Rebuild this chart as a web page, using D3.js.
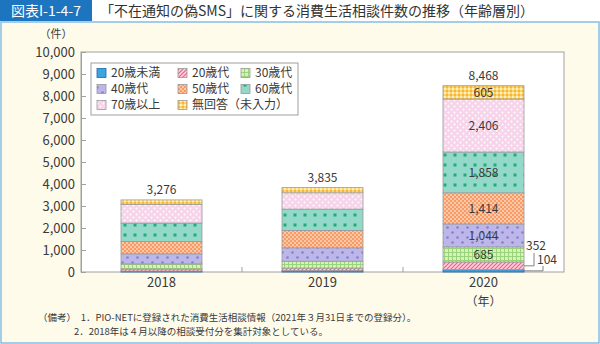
<!DOCTYPE html>
<html><head><meta charset="utf-8">
<script src="https://cdn.jsdelivr.net/npm/d3@7"></script>
<style>
html,body{margin:0;padding:0;background:#fff;}
svg{display:block;font-family:"Noto Sans CJK JP","Noto Sans",sans-serif;}
</style></head>
<body><svg id="c" width="600" height="344"></svg>
<script>
const years = ["2018", "2019", "2020"];
const groups = ["20歳未満", "20歳代", "30歳代", "40歳代", "50歳代", "60歳代", "70歳以上", "無回答（未入力）"];
const under20 = [40, 60, 104];
const age20s = [95, 120, 352];
const age30s = [235, 310, 685];
const age40s = [455, 610, 1044];
const age50s = [560, 790, 1414];
const age60s = [840, 970, 1858];
const age70plus = [840, 740, 2406];
const noAnswer = [211, 235, 605];
const totals = [3276, 3835, 8468];
const yTicks = [0, 1000, 2000, 3000, 4000, 5000, 6000, 7000, 8000, 9000, 10000];
const seriesValues = [under20, age20s, age30s, age40s, age50s, age60s, age70plus, noAnswer];

const svg = d3.select("#c");
const defs = svg.append("defs");
const txt = "#3a3a3a";

function pat(id, w, h, bg, draw) {
  const p = defs.append("pattern").attr("id", id).attr("patternUnits", "userSpaceOnUse")
    .attr("width", w).attr("height", h);
  p.append("rect").attr("width", w).attr("height", h).attr("fill", bg);
  draw(p);
}
pat("p0", 4, 4, "#3aa5de", p => {});
pat("p1", 4, 4, "#fcd2de", p => {
  p.append("path").attr("d", "M-1,1 L1,-1 M0,4 L4,0 M3,5 L5,3").attr("stroke", "#ef6088").attr("stroke-width", 1.2);
});
pat("p2", 4, 4, "#d9f0bd", p => {
  p.append("rect").attr("x", 0).attr("y", 0).attr("width", 4).attr("height", 1).attr("fill", "#9ad47a");
  p.append("rect").attr("x", 0).attr("y", 0).attr("width", 1).attr("height", 4).attr("fill", "#9ad47a");
});
pat("p3", 10, 10, "#bcb7e8", p => {
  p.append("circle").attr("cx", 2.5).attr("cy", 2.5).attr("r", 1.3).attr("fill", "#837dd8");
  p.append("circle").attr("cx", 7.5).attr("cy", 7.5).attr("r", 1.3).attr("fill", "#837dd8");
});
pat("p4", 4, 4, "#f89a66", p => {
  p.append("rect").attr("x", 0).attr("y", 0).attr("width", 2).attr("height", 2).attr("fill", "#fcc9a8");
  p.append("rect").attr("x", 2).attr("y", 2).attr("width", 2).attr("height", 2).attr("fill", "#fcc9a8");
});
pat("p5", 10, 10, "#93d9c9", p => {
  p.append("rect").attr("x", 3.5).attr("y", 3.5).attr("width", 3).attr("height", 3).attr("fill", "#22ab78");
});
pat("p6", 6, 6, "#f6d4ea", p => {
  p.append("circle").attr("cx", 1.5).attr("cy", 1.5).attr("r", 1).attr("fill", "#fff");
  p.append("circle").attr("cx", 4.5).attr("cy", 4.5).attr("r", 1).attr("fill", "#fff");
});
pat("p7", 4, 4, "#fcd46a", p => {
  p.append("rect").attr("x", 0).attr("y", 0).attr("width", 2).attr("height", 2).attr("fill", "#fdf0c0");
  p.append("rect").attr("x", 2).attr("y", 2).attr("width", 2).attr("height", 2).attr("fill", "#f6b63e");
});
const fills = groups.map((g, i) => `url(#p${i})`);

// title bar
svg.append("rect").attr("x", 0).attr("y", 0).attr("width", 600).attr("height", 21).attr("fill", "#fff");
svg.append("rect").attr("x", 0).attr("y", 0).attr("width", 92).attr("height", 21).attr("fill", "#1d74bf");
svg.append("text").attr("x", 46).attr("y", 15.5).attr("text-anchor", "middle").attr("fill", "#fff")
  .attr("font-size", 14).text("図表I-1-4-7");
svg.append("text").attr("x", 100).attr("y", 15.5).attr("fill", "#333")
  .attr("font-size", 14).text("「不在通知の偽SMS」に関する消費生活相談件数の推移（年齢層別）");
svg.append("rect").attr("x", 1).attr("y", 22).attr("width", 598).attr("height", 321)
  .attr("fill", "#fffbea").attr("stroke", "#86bde4").attr("stroke-width", 1.5);

const L = 81, R = 564, T = 52, B = 272;
const x = d3.scaleBand().domain(years).range([L, R]).paddingInner(0).paddingOuter(0);
const y = d3.scaleLinear().domain([0, 10000]).range([B, T]);
const bw = 81;

svg.append("rect").attr("x", L).attr("y", T).attr("width", R - L).attr("height", B - T)
  .attr("fill", "#fff").attr("stroke", "#a0a0a0").attr("stroke-width", 1);

const ya = svg.append("g").attr("transform", `translate(${L},0)`)
  .call(d3.axisLeft(y).tickValues(yTicks).tickFormat(d3.format(",")).tickSize(-5).tickPadding(6));
ya.select(".domain").attr("stroke", "#a0a0a0");
ya.selectAll(".tick line").attr("stroke", "#a0a0a0");
ya.selectAll(".tick text").attr("fill", txt).attr("font-size", 13)
  .attr("font-family", "\"Noto Sans CJK JP\",sans-serif");
svg.append("text").attr("x", 56).attr("y", 38).attr("text-anchor", "middle").attr("fill", txt)
  .attr("font-size", 11).text("（件）");

const xa = svg.append("g").attr("transform", `translate(0,${B})`)
  .call(d3.axisBottom(x).tickSize(0).tickPadding(6));
xa.select(".domain").remove();
xa.selectAll(".tick text").attr("fill", txt).attr("font-size", 13)
  .attr("font-family", "\"Noto Sans CJK JP\",sans-serif");
years.slice(1).forEach(yr => {
  svg.append("line").attr("x1", x(yr)).attr("x2", x(yr)).attr("y1", B).attr("y2", B - 5)
    .attr("stroke", "#a0a0a0");
});
svg.append("text").attr("x", x("2020") + x.bandwidth() / 2).attr("y", 306).attr("text-anchor", "middle")
  .attr("fill", txt).attr("font-size", 12).text("（年）");

const table = years.map((yr, i) => {
  const o = { year: yr };
  groups.forEach((g, j) => o[g] = seriesValues[j][i]);
  return o;
});
const stack = d3.stack().keys(groups)(table);
const gBars = svg.append("g");
stack.forEach((s, j) => {
  gBars.selectAll(null).data(s).enter().append("rect")
    .attr("x", d => x(d.data.year) + (x.bandwidth() - bw) / 2)
    .attr("y", d => y(d[1]))
    .attr("width", bw)
    .attr("height", d => y(d[0]) - y(d[1]))
    .attr("fill", fills[j])
    .attr("stroke", j === 0 ? "#1c6aa8" : "#9a9a9a").attr("stroke-width", 0.8);
});

years.forEach((yr, i) => {
  svg.append("text").attr("x", x(yr) + x.bandwidth() / 2).attr("y", y(totals[i]) - 6)
    .attr("text-anchor", "middle").attr("fill", txt).attr("font-size", 12)
    .text(d3.format(",")(totals[i]));
});

const i20 = 2;
const cx20 = x("2020") + x.bandwidth() / 2;
const right20 = cx20 + bw / 2;
stack.forEach((s, j) => {
  const d = s[i20];
  if (j >= 2) {
    svg.append("text").attr("x", cx20).attr("y", (y(d[0]) + y(d[1])) / 2 + 4.5)
      .attr("text-anchor", "middle").attr("fill", txt).attr("font-size", 12)
      .text(d3.format(",")(seriesValues[j][i20]));
  }
});
const s1 = stack[1][i20];
const m1 = (y(s1[0]) + y(s1[1])) / 2;
svg.append("path").attr("d", `M${right20},${m1} H${right20 + 10} V${m1 - 13}`)
  .attr("fill", "none").attr("stroke", "#666").attr("stroke-width", 0.8);
svg.append("text").attr("x", right20 + 12).attr("y", m1 - 16).attr("text-anchor", "middle")
  .attr("fill", txt).attr("font-size", 12).text(d3.format(",")(seriesValues[1][i20]));
const s0 = stack[0][i20];
const m0 = (y(s0[0]) + y(s0[1])) / 2;
svg.append("path").attr("d", `M${right20},${m0} H${right20 + 19} V${m0 - 5}`)
  .attr("fill", "none").attr("stroke", "#666").attr("stroke-width", 0.8);
svg.append("text").attr("x", right20 + 23).attr("y", m0 - 7).attr("text-anchor", "middle")
  .attr("fill", txt).attr("font-size", 12).text(d3.format(",")(seriesValues[0][i20]));

const lg = svg.append("g");
lg.append("rect").attr("x", 91).attr("y", 63).attr("width", 207).attr("height", 52)
  .attr("fill", "#fff").attr("stroke", "#a0a0a0").attr("stroke-width", 1);
const colX = [97, 178, 241];
groups.forEach((g, j) => {
  const c = j % 3, r = Math.floor(j / 3);
  const gx = colX[c], gy = 73 + r * 16;
  lg.append("rect").attr("x", gx).attr("y", gy - 4.5).attr("width", 9).attr("height", 9)
    .attr("fill", fills[j]).attr("stroke", j === 0 ? "#1c6aa8" : "#9a9a9a").attr("stroke-width", 0.8);
  lg.append("text").attr("x", gx + 14).attr("y", gy + 4.2).attr("fill", txt).attr("font-size", 12).text(g);
});

svg.append("text").attr("x", 38).attr("y", 321).attr("fill", txt).attr("font-size", 9.5)
  .text("（備考）　1．PIO-NETに登録された消費生活相談情報（2021年３月31日までの登録分）。");
svg.append("text").attr("x", 74).attr("y", 335).attr("fill", txt).attr("font-size", 9.5)
  .text("2．2018年は４月以降の相談受付分を集計対象としている。");
</script></body></html>
